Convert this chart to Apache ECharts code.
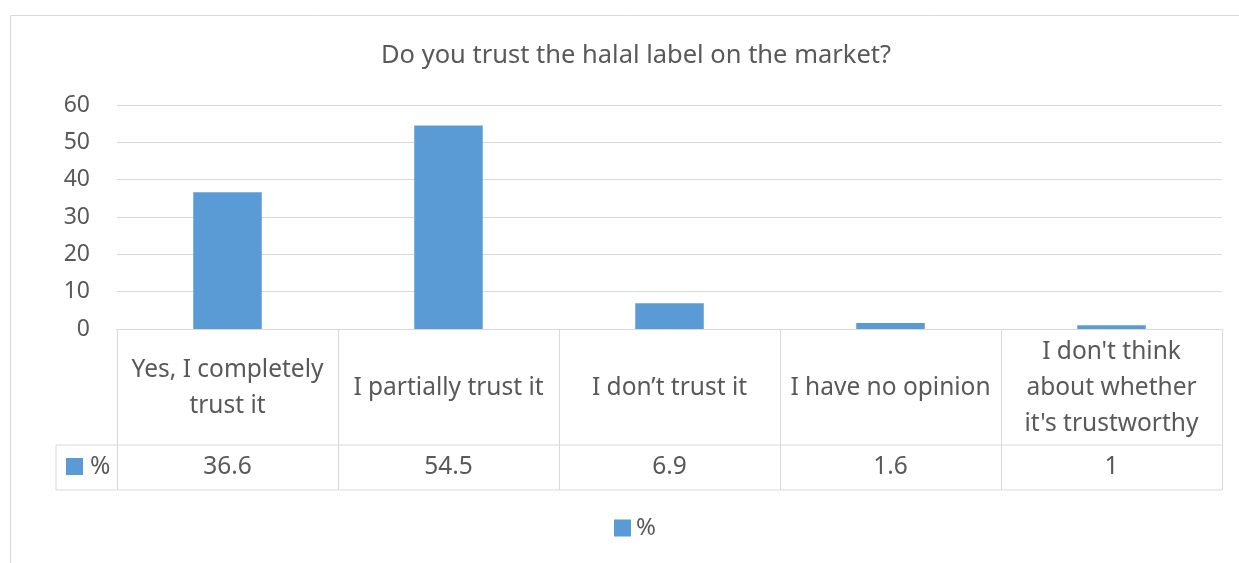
<!DOCTYPE html>
<html>
<head>
<meta charset="utf-8">
<script src="https://cdn.jsdelivr.net/npm/echarts@6/dist/echarts.min.js"></script>
<style>
  html, body { margin: 0; padding: 0; background: #fff; }
  #chart { width: 1239px; height: 563px; }
</style>
</head>
<body>
<div id="chart"></div>
<script>
// Survey answers and their shares
const titleText = 'Do you trust the halal label on the market?';
const seriesName = '%';
const categories = [
  'Yes, I completely\ntrust it',
  'I partially trust it',
  'I don\u2019t trust it',
  'I have no opinion',
  'I don\'t think\nabout whether\nit\'s trustworthy'
];
const values = [36.6, 54.5, 6.9, 1.6, 1];
const yMin = 0, yMax = 60, yStep = 10;

const FONT = 'Noto Sans';
const TEXT = '#595959';
const LINE = '#d9d9d9';
const BAR = '#5b9bd5';
const TABLE_FONT = '24.5px "' + FONT + '"';

const chart = echarts.init(document.getElementById('chart'), null, { renderer: 'canvas' });

const GRID = { left: 117, right: 17, top: 105, bottom: 234 };
const HEAD_H = 116;   // category row of the data table
const VAL_H = 45;     // value row of the data table
const KEY_LEFT = 56;  // left edge of the series-key cell

chart.setOption({
  animation: false,
  backgroundColor: '#fff',
  title: {
    text: titleText,
    left: 376,
    top: 38,
    textStyle: { fontFamily: FONT, fontSize: 25.5, fontWeight: 'normal', color: TEXT }
  },
  legend: {
    top: 516,
    left: 614,
    icon: 'rect',
    itemWidth: 17,
    itemHeight: 17,
    itemGap: 8,
    padding: 0,
    data: [seriesName],
    textStyle: { fontFamily: FONT, fontSize: 24, color: TEXT }
  },
  grid: GRID,
  xAxis: {
    type: 'category',
    data: categories,
    axisLine: { show: true, lineStyle: { color: LINE, width: 1 } },
    axisTick: { show: false },
    axisLabel: { show: false }
  },
  yAxis: {
    type: 'value',
    min: yMin,
    max: yMax,
    interval: yStep,
    axisLine: { show: false },
    axisTick: { show: false },
    splitLine: { lineStyle: { color: LINE, width: 1 } },
    axisLabel: { fontFamily: FONT, fontSize: 23, color: TEXT, margin: 27 }
  },
  series: [{
    name: seriesName,
    type: 'bar',
    data: values,
    barWidth: '31%',
    itemStyle: { color: BAR }
  }]
});

// Data table under the plot, placed from the axis scales
function drawTable() {
  const n = categories.length;
  const c0 = chart.convertToPixel({ xAxisIndex: 0 }, 0);
  const c1 = chart.convertToPixel({ xAxisIndex: 0 }, 1);
  const band = c1 - c0;
  const top = chart.convertToPixel({ yAxisIndex: 0 }, yMin);
  const left = c0 - band / 2;
  const right = left + band * n;
  const mid = top + HEAD_H;
  const bottom = mid + VAL_H;
  const ls = { stroke: LINE, lineWidth: 1 };
  const els = [];

  // chart frame
  els.push({ type: 'rect', shape: { x: 10.5, y: 15.5, width: 1400, height: 800 },
    style: { fill: null, stroke: LINE, lineWidth: 1 }, silent: true, z: -10 });

  els.push({ type: 'line', shape: { x1: KEY_LEFT, y1: mid, x2: right, y2: mid }, style: ls });
  els.push({ type: 'line', shape: { x1: KEY_LEFT, y1: bottom, x2: right, y2: bottom }, style: ls });
  els.push({ type: 'line', shape: { x1: KEY_LEFT, y1: mid, x2: KEY_LEFT, y2: bottom }, style: ls });
  for (let i = 0; i <= n; i++) {
    const x = Math.round(left + band * i) + 0.5;
    els.push({ type: 'line', shape: { x1: x, y1: top, x2: x, y2: bottom }, style: ls });
  }
  categories.forEach((c, i) => {
    const cx = chart.convertToPixel({ xAxisIndex: 0 }, i);
    els.push({ type: 'text', x: cx, y: top + HEAD_H / 2 + 1,
      style: { text: c, fill: TEXT, font: TABLE_FONT, align: 'center',
               verticalAlign: 'middle', lineHeight: 36 } });
    els.push({ type: 'text', x: cx, y: mid + VAL_H / 2,
      style: { text: String(values[i]), fill: TEXT, font: TABLE_FONT,
               align: 'center', verticalAlign: 'middle' } });
  });
  // series key in the value row
  els.push({ type: 'rect', shape: { x: 66, y: mid + 13, width: 17, height: 17 }, style: { fill: BAR } });
  els.push({ type: 'text', x: 90, y: mid + VAL_H / 2,
    style: { text: seriesName, fill: TEXT, font: TABLE_FONT, align: 'left', verticalAlign: 'middle' } });

  chart.setOption({ graphic: { elements: els } });
}
drawTable();
</script>
</body>
</html>
